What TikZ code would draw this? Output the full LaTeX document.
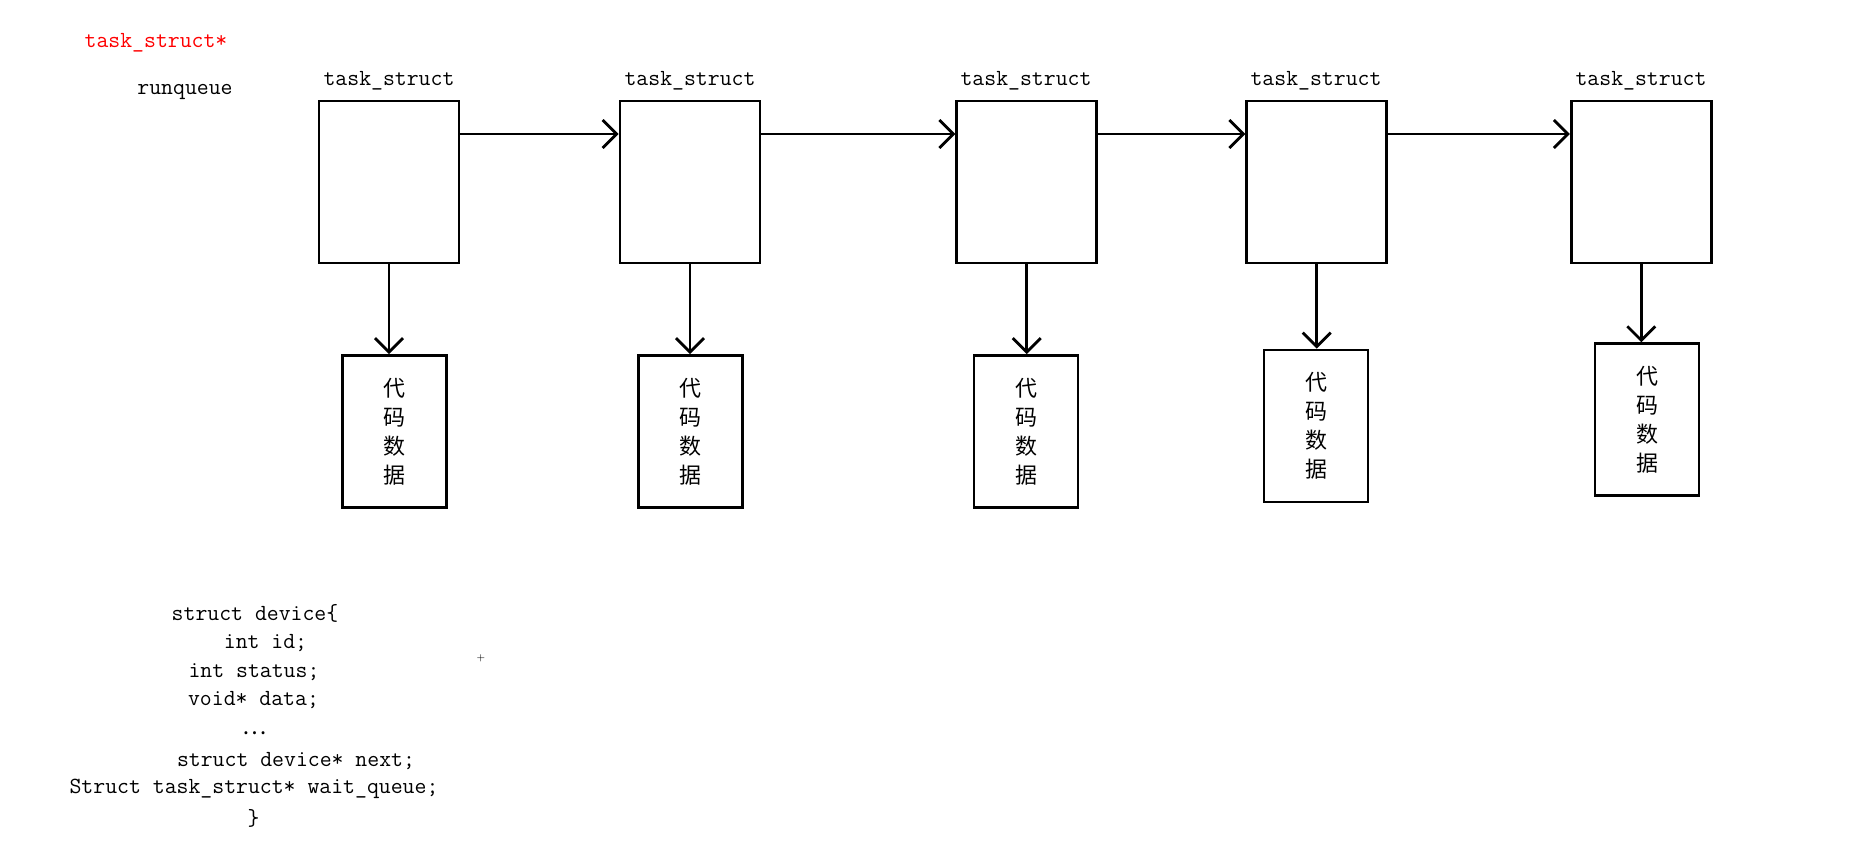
\documentclass[tikz,border=0pt]{standalone}
\usepackage{fontspec}
\newfontfamily\cjk{Noto Sans CJK SC}
\usetikzlibrary{arrows.meta}
\begin{document}
\begin{tikzpicture}[x=0.02cm, y=-0.02cm,
    every node/.style={font=\ttfamily\fontsize{13.15}{16.5}\selectfont},
    taskbox/.style={draw, line width=1.6pt, minimum width=2.8cm, minimum height=3.24cm, inner sep=0pt},
    codebox/.style={draw, line width=1.6pt, minimum width=2.08cm, minimum height=3.04cm, inner sep=0pt,
        align=center, font=\cjk\fontsize{12.5}{16.5}\selectfont},
    link/.style={line width=1.6pt, -{Straight Barb[length=0.28cm, width=0.56cm, line width=1.6pt]}}]
  \useasboundingbox (0,0) rectangle (1863,854);

  % Zeiger und Warteschlange
  \node[text=red] (ptr) at (156,43) {task\_struct*};
  \node (rq) at (185,92) {runqueue};

  % Die task_struct-Knoten
  \coordinate (x1) at (389,182);
  \coordinate (x2) at (690,182);
  \coordinate (x3) at (1026.7,182);
  \coordinate (x4) at (1316.7,182);
  \coordinate (x5) at (1641.3,182);
  \node[taskbox] (n1) at (x1) {};
  \node[taskbox] (n2) at (x2) {};
  \node[taskbox] (n3) at (x3) {};
  \node[taskbox] (n4) at (x4) {};
  \node[taskbox] (n5) at (x5) {};
  \node (l1) at (389,81) {task\_struct};
  \node (l2) at (690,81) {task\_struct};
  \node (l3) at (1026,81) {task\_struct};
  \node (l4) at (1316,81) {task\_struct};
  \node (l5) at (1641,81) {task\_struct};

  % Code und Daten
  \node[codebox] (c1) at (394.3,431.5) {代\\码\\数\\据};
  \node[codebox] (c2) at (690.5,431.5) {代\\码\\数\\据};
  \node[codebox] (c3) at (1026,431.5) {代\\码\\数\\据};
  \node[codebox] (c4) at (1316,426) {代\\码\\数\\据};
  \node[codebox] (c5) at (1647,419.7) {代\\码\\数\\据};

  \draw[link] ([yshift=0.96cm]n1.east) -- ([yshift=0.96cm]n2.west);
  \draw[link] ([yshift=0.96cm]n2.east) -- ([yshift=0.96cm]n3.west);
  \draw[link] ([yshift=0.96cm]n3.east) -- ([yshift=0.96cm]n4.west);
  \draw[link] ([yshift=0.96cm]n4.east) -- ([yshift=0.96cm]n5.west);
  \draw[link] (n1.south) -- (n1.south |- c1.north);
  \draw[link] (n2.south) -- (n2.south |- c2.north);
  \draw[link] (n3.south) -- (n3.south |- c3.north);
  \draw[link] (n4.south) -- (n4.south |- c4.north);
  \draw[link] (n5.south) -- (n5.south |- c5.north);

  % struct device
  \node (s1) at (255,613) {struct device\{};
  \node (s2) at (265.5,643) {int id;};
  \node (s3) at (254,672) {int status;};
  \node (s4) at (253.5,700) {void* data;};
  \node[font=\cjk\fontsize{13}{16.5}\selectfont] (s5) at (255,733) {…};
  \node (s6) at (296,761) {struct device* next;};
  \node (s7) at (254,789) {Struct task\_struct* wait\_queue;};
  \node (s8) at (253.5,818) {\}};
  \node[font=\tiny] (mk) at (481,658) {+};
\end{tikzpicture}
\end{document}
